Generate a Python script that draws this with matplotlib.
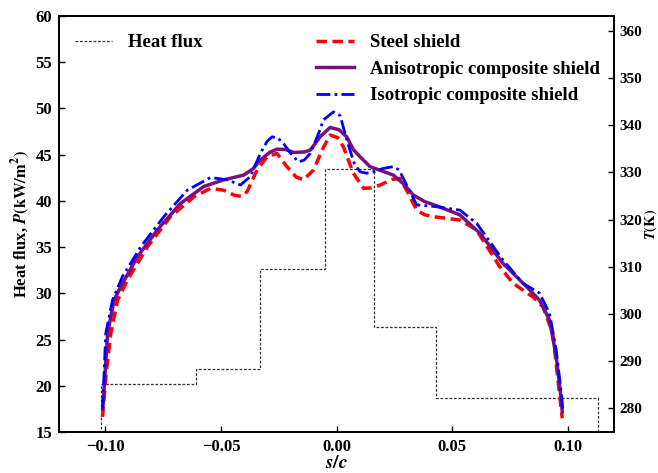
import numpy as np
import matplotlib
matplotlib.use("Agg")
import matplotlib.pyplot as plt
from matplotlib.lines import Line2D

plt.rcParams['font.family'] = ['Liberation Serif', 'DejaVu Serif']
plt.rcParams['font.weight'] = 'bold'
plt.rcParams['mathtext.fontset'] = 'stix'
plt.rcParams['axes.unicode_minus'] = True

# heat flux applied on the shield (step profile), kW/m^2
flux_edges = [-0.102, -0.061, -0.033, -0.005, 0.016, 0.043, 0.113]
flux_vals = [20.2, 21.8, 32.6, 43.4, 26.4, 18.7]

# surface temperature, steel shield
s_steel = [-0.1012, -0.0995, -0.0976, -0.0947, -0.0904, -0.0818, -0.0718, -0.0617, -0.0545,
           -0.0488, -0.0440, -0.0410, -0.0387, -0.0344, -0.0301, -0.0258, -0.0215, -0.0175,
           -0.0143, -0.0100, -0.0060, -0.0028, 0.0005, 0.0029, 0.0072, 0.0116, 0.0150,
           0.0188, 0.0240, 0.0274, 0.0310, 0.0346, 0.0380, 0.0417, 0.0532, 0.0604, 0.0705,
           0.0762, 0.0848, 0.0892, 0.0934, 0.0963, 0.0975]
T_steel = [278.2, 288.0, 295.9, 302.9, 307.2, 314.2, 320.6, 324.8, 326.6,
           326.2, 325.1, 324.9, 325.9, 330.5, 333.3, 334.0, 331.2, 329.0,
           328.4, 330.5, 335.0, 337.9, 337.3, 335.4, 329.8, 326.6, 326.7,
           327.3, 328.5, 328.7, 325.5, 322.0, 321.0, 320.6, 319.9, 317.8, 310.0,
           306.5, 303.6, 301.5, 295.9, 283.2, 277.9]

# surface temperature, anisotropic composite shield
s_aniso = [-0.1010, -0.0990, -0.0962, -0.0933, -0.0861, -0.0775, -0.0675, -0.0574, -0.0488,
           -0.0402, -0.0360, -0.0330, -0.0290, -0.0258, -0.0220, -0.0186, -0.0140, -0.0114,
           -0.0070, -0.0028, 0.0010, 0.0044, 0.0072, 0.0101, 0.0144, 0.0200, 0.0245,
           0.0290, 0.0331, 0.0380, 0.0432, 0.0532, 0.0619, 0.0719, 0.0820, 0.0877,
           0.0920, 0.0949, 0.0971, 0.0975]
T_aniso = [280.5, 295.9, 302.9, 305.8, 312.1, 317.8, 323.4, 327.0, 328.4,
           329.4, 330.8, 332.6, 334.2, 334.9, 334.8, 334.2, 334.3, 334.7,
           337.6, 339.5, 339.0, 337.5, 334.8, 333.3, 331.2, 330.2, 329.4,
           327.5, 325.2, 323.8, 322.9, 321.0, 317.1, 310.7, 305.8, 302.9,
           298.7, 290.9, 281.8, 279.3]

# surface temperature, isotropic composite shield
s_iso = [-0.1012, -0.0998, -0.0969, -0.0926, -0.0847, -0.0747, -0.0646, -0.0545, -0.0473,
         -0.0416, -0.0373, -0.0330, -0.0300, -0.0279, -0.0255, -0.0230, -0.0195, -0.0165,
         -0.0140, -0.0114, -0.0080, -0.0057, -0.0014, 0.0015, 0.0044, 0.0075, 0.0101,
         0.0130, 0.0159, 0.0200, 0.0245, 0.0270, 0.0288, 0.0346, 0.0432, 0.0532, 0.0605,
         0.0719, 0.0805, 0.0877, 0.0920, 0.0949, 0.0971, 0.0978]
T_iso = [279.6, 295.9, 302.9, 307.9, 314.2, 320.6, 326.2, 328.9, 328.4,
         327.3, 329.1, 334.0, 336.6, 337.5, 337.3, 336.1, 333.8, 332.2,
         332.6, 334.0, 338.0, 341.1, 342.8, 342.0, 336.8, 332.0, 330.1,
         329.8, 330.1, 330.8, 331.2, 330.5, 328.7, 323.1, 322.7, 322.0, 319.2,
         311.4, 306.5, 304.4, 300.1, 292.4, 283.2, 279.3]

fig = plt.figure(figsize=(6.58, 4.73), dpi=100)
ax = fig.add_axes([0.0897, 0.0867, 0.8439, 0.8795])
ax2 = ax.twinx()

flux_style = dict(color='#333333', lw=0.9, linestyle=(0, (2.2, 1.4)))
steel_style = dict(color='#ff0000', lw=2.5, linestyle=(0, (3.0, 1.6)))
aniso_style = dict(color='#7a0f7f', lw=2.5)
iso_style = dict(color='#0000ff', lw=2.0, linestyle=(0, (5, 1.5, 1, 1.5)))

ax.stairs(flux_vals, flux_edges, baseline=0, **flux_style)

ax2.plot(s_steel, T_steel, **steel_style)
ax2.plot(s_aniso, T_aniso, **aniso_style)
ax2.plot(s_iso, T_iso, **iso_style)

ax.set_xlim(-0.12, 0.12)
ax.set_ylim(15, 60)
ax2.set_ylim(275, 363.1)
ax.set_xticks([-0.10, -0.05, 0.00, 0.05, 0.10])
ax.set_xticklabels(['\u22120.10', '\u22120.05', '0.00', '0.05', '0.10'])
ax.set_yticks(range(15, 61, 5))
ax2.set_yticks(range(280, 361, 10))

for a in (ax, ax2):
    a.tick_params(direction='in', length=4, width=1.0, labelsize=12, pad=5)
    for sp in a.spines.values():
        sp.set_linewidth(1.4)
ax2.tick_params(axis='y', pad=4, labelsize=11)

ax.set_xlabel(r'$s/c$', fontsize=14, labelpad=0)
ax.set_ylabel(r'Heat flux, $P\mathrm{(kW/m^2)}$', fontsize=12, fontweight='bold', labelpad=2)
ax2.set_ylabel(r'$T\mathrm{(K)}$', fontsize=10.5, labelpad=-0.5)

leg1 = ax2.legend([Line2D([], [], **flux_style)], ['Heat flux'],
                  loc='upper left', bbox_to_anchor=(0.028, 0.956),
                  frameon=False, fontsize=13.5, handlelength=2.0, handletextpad=0.85,
                  borderpad=0, borderaxespad=0)
ax2.add_artist(leg1)

h_curves = [Line2D([], [], **steel_style), Line2D([], [], **aniso_style),
            Line2D([], [], **iso_style)]
ax2.legend(h_curves, ['Steel shield', 'Anisotropic composite shield', 'Isotropic composite shield'],
           loc='upper left', bbox_to_anchor=(0.463, 0.956), frameon=False, fontsize=13.5,
           handlelength=2.0, handletextpad=0.85, labelspacing=0.5,
           borderpad=0, borderaxespad=0)

fig.savefig('out.png', dpi=100)
